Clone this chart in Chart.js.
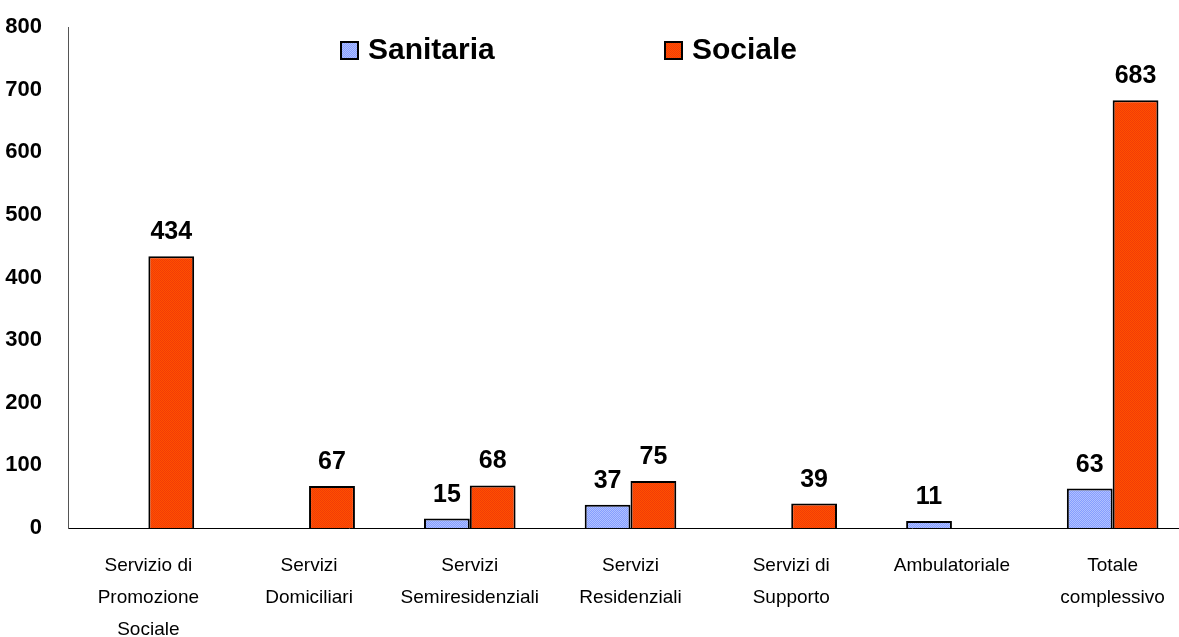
<!DOCTYPE html>
<html lang="it">
<head>
  <meta charset="UTF-8">
  <title>Sanitaria / Sociale</title>
  <script src="https://cdn.jsdelivr.net/npm/chart.js"></script>
  <style>
    html, body { margin: 0; padding: 0; background: #fff; overflow: hidden; }
  </style>
</head>
<body>
  <canvas id="chart" width="1195" height="637"></canvas>

  <script>
    // Categories and values
    const categories = [
      ['Servizio di', 'Promozione', 'Sociale'],
      ['Servizi', 'Domiciliari'],
      ['Servizi', 'Semiresidenziali'],
      ['Servizi', 'Residenziali'],
      ['Servizi di', 'Supporto'],
      'Ambulatoriale',
      ['Totale', 'complessivo']
    ];
    const sanitaria = [null, null, 15, 37, null, 11, 63];
    const sociale = [434, 67, 68, 75, 39, null, 683];
    const seriesNames = ['Sanitaria', 'Sociale'];

    // small dotted fill like the old spreadsheet patterns
    function makePattern(c1, c2) {
      const p = document.createElement('canvas');
      p.width = 2; p.height = 2;
      const g = p.getContext('2d');
      g.fillStyle = c1; g.fillRect(0, 0, 2, 2);
      g.fillStyle = c2; g.fillRect(0, 0, 1, 1); g.fillRect(1, 1, 1, 1);
      return g.createPattern(p, 'repeat');
    }
    const blueFill = makePattern('#859eff', '#b0c0ff');
    const orangeFill = makePattern('#ff5000', '#f23c06');

    // value labels above each bar
    const valueLabels = {
      id: 'valueLabels',
      afterDatasetsDraw(chart) {
        const ctx = chart.ctx;
        ctx.save();
        ctx.font = 'bold 25px "Liberation Sans", Arial, sans-serif';
        ctx.fillStyle = '#000';
        ctx.textAlign = 'center';
        ctx.textBaseline = 'alphabetic';
        chart.data.datasets.forEach((ds, i) => {
          chart.getDatasetMeta(i).data.forEach((bar, j) => {
            if (ds.data[j] == null) return;
            ctx.fillText(ds.data[j], bar.x, bar.y - 17);
          });
        });
        ctx.restore();
      }
    };

    // legend drawn inside the plot, as in the original
    const topLegend = {
      id: 'topLegend',
      afterDraw(chart) {
        const ctx = chart.ctx;
        const items = [
          { x: 341, fill: blueFill, text: seriesNames[0] },
          { x: 665, fill: orangeFill, text: seriesNames[1] }
        ];
        ctx.save();
        ctx.font = 'bold 30px "Liberation Sans", Arial, sans-serif';
        ctx.textBaseline = 'middle';
        ctx.textAlign = 'left';
        items.forEach(it => {
          ctx.fillStyle = it.fill;
          ctx.fillRect(it.x, 42, 17, 17);
          ctx.lineWidth = 2;
          ctx.strokeStyle = '#000';
          ctx.strokeRect(it.x, 42, 17, 17);
          ctx.fillStyle = '#000';
          ctx.fillText(it.text, it.x + 27, 51);
        });
        ctx.restore();
      }
    };

    const ctx = document.getElementById('chart').getContext('2d');
    new Chart(ctx, {
      type: 'bar',
      data: {
        labels: categories,
        datasets: [
          {
            label: seriesNames[0],
            data: sanitaria,
            backgroundColor: blueFill,
            borderColor: '#000',
            borderWidth: 2
          },
          {
            label: seriesNames[1],
            data: sociale,
            backgroundColor: orangeFill,
            borderColor: '#000',
            borderWidth: 2
          }
        ]
      },
      options: {
        responsive: false,
        animation: false,
        devicePixelRatio: 1,
        layout: { padding: { top: 27, right: 2, left: 0, bottom: 0 } },
        datasets: { bar: { categoryPercentage: 0.57, barPercentage: 1 } },
        plugins: {
          legend: { display: false },
          tooltip: { enabled: false }
        },
        scales: {
          x: {
            grid: { display: false },
            border: { display: true, color: '#000', width: 1 },
            ticks: {
              color: '#000',
              padding: 14,
              maxRotation: 0,
              autoSkip: false,
              font: { family: '"Liberation Sans", Arial, sans-serif', size: 19, lineHeight: 1.68 }
            },
            afterFit(scale) { scale.height = 109; }
          },
          y: {
            min: 0,
            max: 800,
            grid: { display: false },
            border: { display: true, color: '#555', width: 1 },
            ticks: {
              stepSize: 100,
              color: '#000',
              padding: 18,
              font: { family: '"Liberation Sans", Arial, sans-serif', size: 22, weight: 'bold' }
            },
            afterFit(scale) {
              scale.width = 68;
              scale.paddingTop = 0;
              scale.paddingBottom = 0;
            }
          }
        }
      },
      plugins: [valueLabels, topLegend]
    });
  </script>
</body>
</html>
